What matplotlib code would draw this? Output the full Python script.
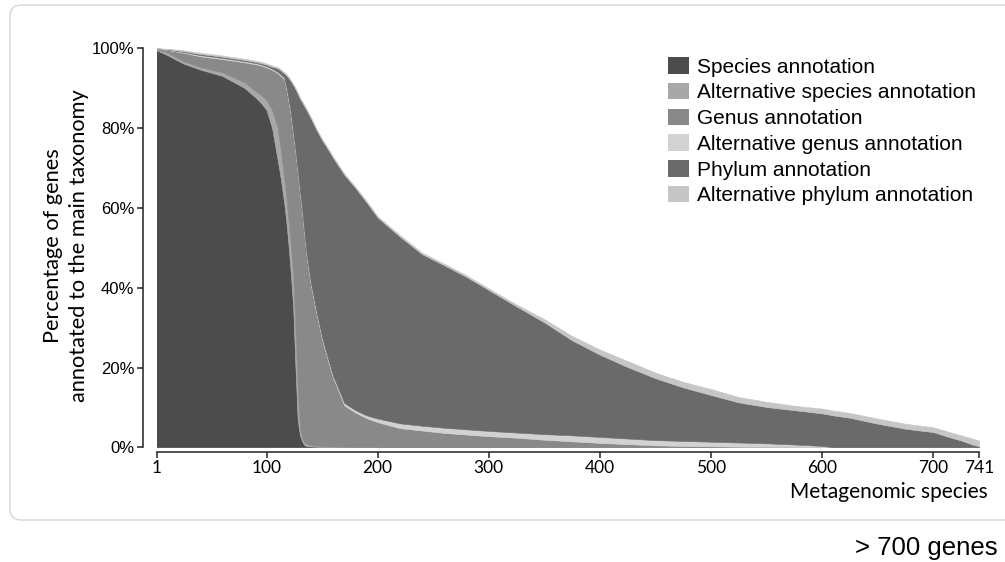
import numpy as np
import matplotlib.pyplot as plt
from matplotlib.patches import Patch, FancyBboxPatch

# metagenomic species (rank, 1..741) at which the annotation shares were read
species_rank = [1, 10, 25, 40, 60, 80, 90, 95, 100, 105, 110, 113, 116, 118, 120,
                122, 124, 126, 128, 130, 132, 134, 136, 140, 145, 150, 155, 160,
                170, 180, 190, 200, 220, 240, 260, 280, 300, 325, 350, 375, 400,
                425, 450, 475, 500, 525, 550, 575, 600, 610, 625, 650, 675, 700,
                715, 725, 735, 741]

# percentage of genes in each annotation class
species_annot = [99.5, 98.4, 96.2, 94.7, 93.1, 90.1, 87.7, 86.3, 84.5, 80.0, 72.0,
                 67.0, 61.0, 56.0, 50.0, 43.0, 35.0, 20.0, 7.0, 3.0, 1.5, 0.6, 0.3,
                 0.2, 0.1, 0, 0, 0, 0, 0, 0, 0, 0, 0, 0, 0, 0, 0, 0, 0, 0, 0, 0, 0,
                 0, 0, 0, 0, 0, 0, 0, 0, 0, 0, 0, 0, 0, 0]
alt_species_annot = [0.3, 0.6, 0.6, 0.6, 0.9, 1.4, 1.6, 2.0, 2.5, 4.5, 8.0, 7.0, 6.0,
                     6.0, 6.0, 7.0, 8.0, 10.0, 8.0, 2.0, 0.8, 0.6, 0.5, 0.3, 0.25,
                     0.3, 0.25, 0.2, 0.15, 0.1, 0.1, 0.05, 0, 0, 0, 0, 0, 0, 0, 0,
                     0, 0, 0, 0, 0, 0, 0, 0, 0, 0, 0, 0, 0, 0, 0, 0, 0, 0]
genus_annot = [0.2, 0.6, 2.1, 2.7, 3.3, 5.0, 6.7, 7.4, 8.2, 10.1, 13.8, 19.0, 25.2,
               27.5, 30.5, 33.0, 35.5, 44.0, 54.0, 59.0, 56.7, 52.3, 47.2, 40.0,
               33.15, 26.7, 21.75, 17.1, 10.35, 8.6, 7.2, 6.25, 4.8, 4.2, 3.6, 3.2,
               2.8, 2.4, 1.9, 1.5, 1.1, 0.8, 0.5, 0.35, 0.25, 0.15, 0.1, 0.05, 0,
               0, 0, 0, 0, 0, 0, 0, 0, 0]
alt_genus_annot = [0, 0.1, 0.2, 0.3, 0.3, 0.3, 0.3, 0.3, 0.3, 0.3, 0.3, 0.4, 0.4,
                   0.5, 0.5, 0.5, 0.5, 0.5, 0.5, 0.5, 0.5, 0.5, 0.5, 0.5, 0.5, 0.5,
                   0.5, 0.5, 0.6, 0.6, 0.7, 0.9, 1.2, 1.2, 1.3, 1.3, 1.3, 1.3, 1.4,
                   1.5, 1.5, 1.4, 1.3, 1.25, 1.15, 1.05, 0.9, 0.65, 0.35, 0, 0, 0,
                   0, 0, 0, 0, 0, 0]
phylum_annot = [0, 0.1, 0.2, 0.3, 0.3, 0.3, 0.3, 0.3, 0.4, 0.5, 0.9, 1.0, 1.1, 3.2,
                5.5, 8.2, 11.8, 15.3, 19.2, 22.9, 27.0, 31.5, 36.0, 41.4, 45.5, 49.5,
                52.3, 54.7, 57.2, 55.7, 53.4, 50.4, 46.8, 43.0, 40.7, 38.2, 35.3,
                31.6, 28.0, 23.8, 20.6, 17.9, 15.5, 13.4, 11.7, 10.05, 9.1, 8.6,
                8.15, 8.0, 7.4, 5.9, 4.65, 3.8, 2.5, 1.7, 0.7, 0.3]
alt_phylum_annot = [0, 0.1, 0.2, 0.3, 0.3, 0.3, 0.3, 0.3, 0.3, 0.3, 0.3, 0.3, 0.3,
                    0.3, 0.3, 0.3, 0.3, 0.3, 0.3, 0.3, 0.3, 0.3, 0.3, 0.3, 0.3, 0.3,
                    0.3, 0.3, 0.3, 0.3, 0.3, 0.3, 0.4, 0.4, 0.4, 0.4, 0.4, 0.5, 0.8,
                    1.1, 1.3, 1.5, 1.4, 1.4, 1.5, 1.35, 1.3, 1.1, 1.2, 1.2, 1.2, 1.3,
                    1.25, 1.2, 1.3, 1.3, 1.5, 1.4]

labels = ['Species annotation', 'Alternative species annotation', 'Genus annotation',
          'Alternative genus annotation', 'Phylum annotation',
          'Alternative phylum annotation']
colors = ['#4c4c4c', '#a8a8a8', '#898989', '#d2d2d2', '#6a6a6a', '#c6c6c6']

x_ticks = [1, 100, 200, 300, 400, 500, 600, 700, 741]
y_ticks = [0, 20, 40, 60, 80, 100]

W, H = 1005, 562
fig = plt.figure(figsize=(W / 100, H / 100), dpi=100)

# rounded card behind the chart
card = FancyBboxPatch((10 / W, 1 - 520 / H), 1.05, 515 / H,
                      boxstyle='round,pad=0,rounding_size=0.011',
                      mutation_aspect=W / H, transform=fig.transFigure,
                      facecolor='white', edgecolor='#dcdcdc', linewidth=1.2,
                      zorder=-10)
fig.patches.append(card)

ax = fig.add_axes([156.5 / W, 1 - 447.3 / H, (979 - 156.5) / W, 399 / H])
ax.set_facecolor('none')
ax.stackplot(species_rank, species_annot, alt_species_annot, genus_annot,
             alt_genus_annot, phylum_annot, alt_phylum_annot, colors=colors,
             linewidth=0.4, edgecolor='face')

ax.set_xlim(1, 741)
ax.set_ylim(0, 100)
for s in ['top', 'right']:
    ax.spines[s].set_visible(False)
ax.spines['left'].set_position(('outward', 10))
ax.spines['bottom'].set_position(('outward', 3.3))
ax.spines['left'].set_bounds(0, 100)
ax.spines['bottom'].set_bounds(1, 741)
for s in ['left', 'bottom']:
    ax.spines[s].set_linewidth(1.1)
    ax.spines[s].set_color('#222222')

ax.set_yticks(y_ticks)
ax.set_yticklabels([f'{v}%' for v in y_ticks], family='Liberation Sans', fontsize=12)
ax.set_xticks(x_ticks)
ax.set_xticklabels([str(v) for v in x_ticks], family='Lato', fontsize=12.5)
ax.tick_params(axis='both', length=4, width=1.1, color='#222222', pad=2)

fig.text(66 / W, 1 - 246 / H, 'Percentage of genes\nannotated to the main taxonomy',
         rotation=90, ha='center', va='center', multialignment='center',
         family='Lato', fontsize=15.7, linespacing=1.35)
fig.text(988 / W, 1 - 492 / H, 'Metagenomic species', ha='right', va='center',
         family='Lato', fontsize=15)
fig.text(998 / W, 1 - 548 / H, '> 700 genes', ha='right', va='center',
         family='Liberation Sans', fontsize=18.5)

handles = [Patch(facecolor=c, edgecolor='none') for c in colors]
fig.legend(handles, labels, loc='upper left', bbox_to_anchor=(668 / W, 1 - 57 / H),
           frameon=False, borderpad=0, borderaxespad=0, handlelength=1.0,
           handleheight=0.85, handletextpad=0.4, labelspacing=0.3,
           prop={'family': 'Liberation Sans', 'size': 15})

fig.savefig('out.png', dpi=100)
